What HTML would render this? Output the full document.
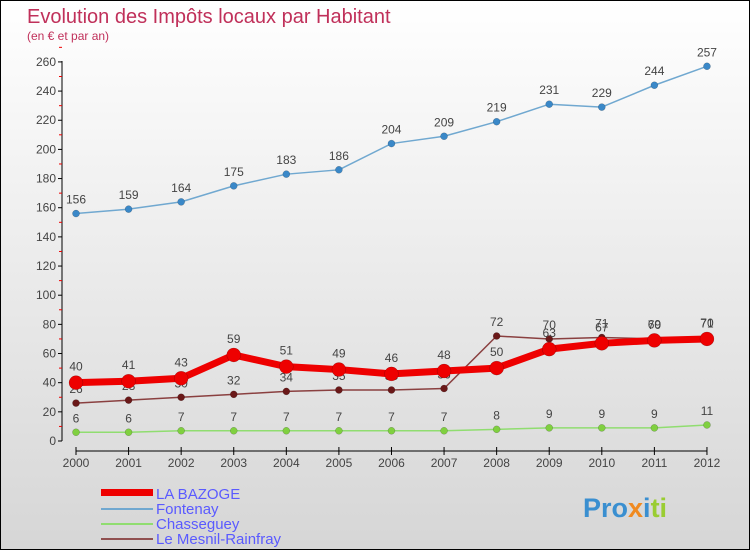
<!DOCTYPE html>
<html><head><meta charset="utf-8"><style>
body{margin:0}
#c{position:relative;width:748px;height:548px;border:1px solid #000;background:linear-gradient(#fff,#d6d6d6);font-family:"Liberation Sans",sans-serif;overflow:hidden}
</style></head><body>
<div id="c">
<svg id="s" width="748" height="548" xmlns="http://www.w3.org/2000/svg">
<text x="26" y="22" font-size="20" fill="#c0305a">Evolution des Impôts locaux par Habitant</text>
<text x="26" y="39" font-size="12" fill="#c0305a">(en € et par an)</text>
<g id="axes"></g><g id="series"></g>
<g>
<rect x="100" y="488" width="52" height="7" fill="#e00"/>
<text x="155" y="498" font-size="15" fill="#5a5aff">LA BAZOGE</text>
<rect x="100" y="507" width="52" height="2" fill="#70a8d0"/>
<text x="155" y="513" font-size="15" fill="#5a5aff">Fontenay</text>
<rect x="100" y="522" width="52" height="2" fill="#90dd70"/>
<text x="155" y="528" font-size="15" fill="#5a5aff">Chasseguey</text>
<rect x="100" y="537" width="52" height="2" fill="#905050"/>
<text x="155" y="543" font-size="15" fill="#5a5aff">Le Mesnil-Rainfray</text>
</g>
<text x="582" y="516" font-size="27" font-weight="bold"><tspan fill="#3a8fd0">Pro</tspan><tspan fill="#f08a20">x</tspan><tspan fill="#3a8fd0">i</tspan><tspan fill="#9acd32">ti</tspan></text>
</svg></div>
<script>
const years=["2000","2001","2002","2003","2004","2005","2006","2007","2008","2009","2010","2011","2012"];
const yTicks=[0,20,40,60,80,100,120,140,160,180,200,220,240,260];
const bazoge=[40,41,43,59,51,49,46,48,50,63,67,69,70];
const fontenay=[156,159,164,175,183,186,204,209,219,231,229,244,257];
const chasseguey=[6,6,7,7,7,7,7,7,8,9,9,9,11];
const mesnil=[26,28,30,32,34,35,35,36,72,70,71,70,71];
const NS="http://www.w3.org/2000/svg";
const X=i=>75+i*52.58, Y=v=>440-v*1.458;
function mk(p,t,a){const e=document.createElementNS(NS,t);for(const k in a)e.setAttribute(k,a[k]);p.appendChild(e);return e;}
const ax=document.getElementById('axes'), sg=document.getElementById('series');
let l=mk(ax,'line',{x1:61,y1:60,x2:61,y2:440,stroke:'#000'});


yTicks.forEach(v=>{
 mk(ax,'line',{x1:57,x2:61,y1:Y(v),y2:Y(v),stroke:'#000'});
 mk(ax,'line',{x1:58,x2:61,y1:Y(v+10),y2:Y(v+10),stroke:'#e00'});
 const t=mk(ax,'text',{x:55,y:Y(v)+4,'font-size':12,fill:'#444','text-anchor':'end'});t.textContent=v;
 
 
});
l=mk(ax,'line',{x1:75,y1:450,x2:X(12),y2:450,stroke:'#000'});


years.forEach((y,i)=>{
 mk(ax,'line',{x1:X(i),x2:X(i),y1:446,y2:454,stroke:'#000'});
 const t=mk(ax,'text',{x:X(i),y:466,'font-size':12,fill:'#444','text-anchor':'middle'});t.textContent=y;
 
 
});
function draw(d,name,col,w,r,dot,lblOff){
 const g=mk(sg,'g',{});
 
 
 const pl=mk(g,'polyline',{points:d.map((v,i)=>X(i)+','+Y(v)).join(' '),fill:'none',stroke:col,'stroke-width':w,'stroke-linejoin':'round'});
 
 
 d.forEach((v,i)=>{
  const c=mk(g,'circle',{cx:X(i),cy:Y(v),r:r,fill:dot,stroke:'rgba(0,0,0,0.3)','stroke-width':0.5});
  
  
  const t=mk(g,'text',{x:X(i),y:Y(v)-lblOff,'font-size':12,fill:'#444','text-anchor':'middle'});t.textContent=v;
  
  
 });
}
draw(chasseguey,'chasseguey','#90dd70',1.5,3.5,'#80d040',10);
draw(mesnil,'le-mesnil-rainfray','#8a4040',1.5,3.5,'#6a1818',10);
draw(fontenay,'fontenay','#70a8d0',1.5,3.5,'#3a88c8',10);
draw(bazoge,'la-bazoge','#ee0000',7,7,'#ee0000',12);
</script>
</body></html>
